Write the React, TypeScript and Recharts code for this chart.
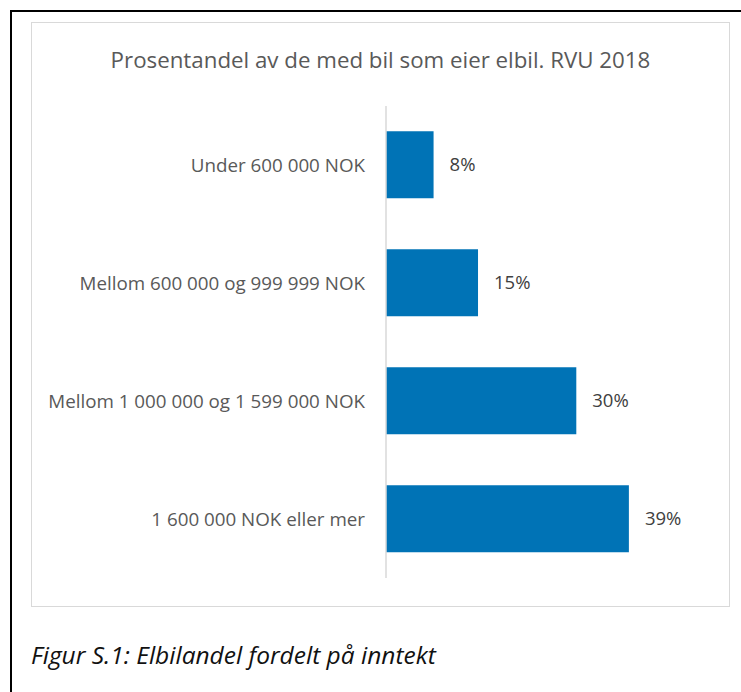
import React from 'react';
import { BarChart, Bar, XAxis, YAxis, LabelList } from 'recharts';

// Inntektsgrupper (husholdningsinntekt) og andel elbil blant de med bil
const categories = [
  'Under 600 000 NOK',
  'Mellom 600 000 og 999 999 NOK',
  'Mellom 1 000 000 og 1 599 000 NOK',
  '1 600 000 NOK eller mer',
];
const shares = [7.6, 14.7, 30.4, 38.8];

const title = 'Prosentandel av de med bil som eier elbil. RVU 2018';
const caption = 'Figur S.1: Elbilandel fordelt på inntekt';

const data = categories.map((name, i) => ({ name, share: shares[i] }));

const FONT = '"Open Sans", "Liberation Sans", sans-serif';

export default function App() {
  return (
    <div style={{ position: 'absolute', left: 0, top: 0, width: 741, height: 692, overflow: 'hidden', background: '#fff', fontFamily: FONT }}>
      {/* outer frame, cut off at right/bottom */}
      <div style={{ position: 'absolute', left: 10, top: 10, width: 760, height: 720, border: '2px solid #000', boxSizing: 'border-box' }} />

      {/* chart area */}
      <div style={{ position: 'absolute', left: 31, top: 22, width: 699, height: 585, border: '1px solid #d9d9d9', boxSizing: 'border-box' }}>
        <div style={{ position: 'absolute', left: 0, right: 0, top: 22, textAlign: 'center', fontSize: 22.3, color: '#595959', lineHeight: '30px', whiteSpace: 'nowrap' }}>
          {title}
        </div>
        <div style={{ position: 'absolute', left: 0, top: 0 }}>
          <BarChart
            width={697}
            height={583}
            data={data}
            layout="vertical"
            margin={{ top: 83, right: 30, bottom: 28, left: 0 }}
            barCategoryGap="21.5%"
          >
            <XAxis type="number" domain={[0, 50]} hide />
            <YAxis
              type="category"
              dataKey="name"
              width={354}
              axisLine={{ stroke: '#d9d9d9', strokeWidth: 1.5 }}
              tickLine={false}
              tickSize={0}
              tickMargin={21}
              tick={{ fill: '#595959', fontSize: 18.8, fontFamily: FONT }}
              interval={0}
            />
            <Bar dataKey="share" fill="#0073b6" isAnimationActive={false}>
              <LabelList
                dataKey="share"
                position="right"
                offset={16}
                formatter={(v: number) => `${Math.round(v)}%`}
                style={{ fill: '#404040', fontSize: 18.5, fontFamily: FONT }}
              />
            </Bar>
          </BarChart>
        </div>
      </div>

      <div style={{ position: 'absolute', left: 31, top: 640, fontSize: 24.5, fontStyle: 'italic', color: '#111', lineHeight: '30px', whiteSpace: 'nowrap' }}>
        {caption}
      </div>
    </div>
  );
}
